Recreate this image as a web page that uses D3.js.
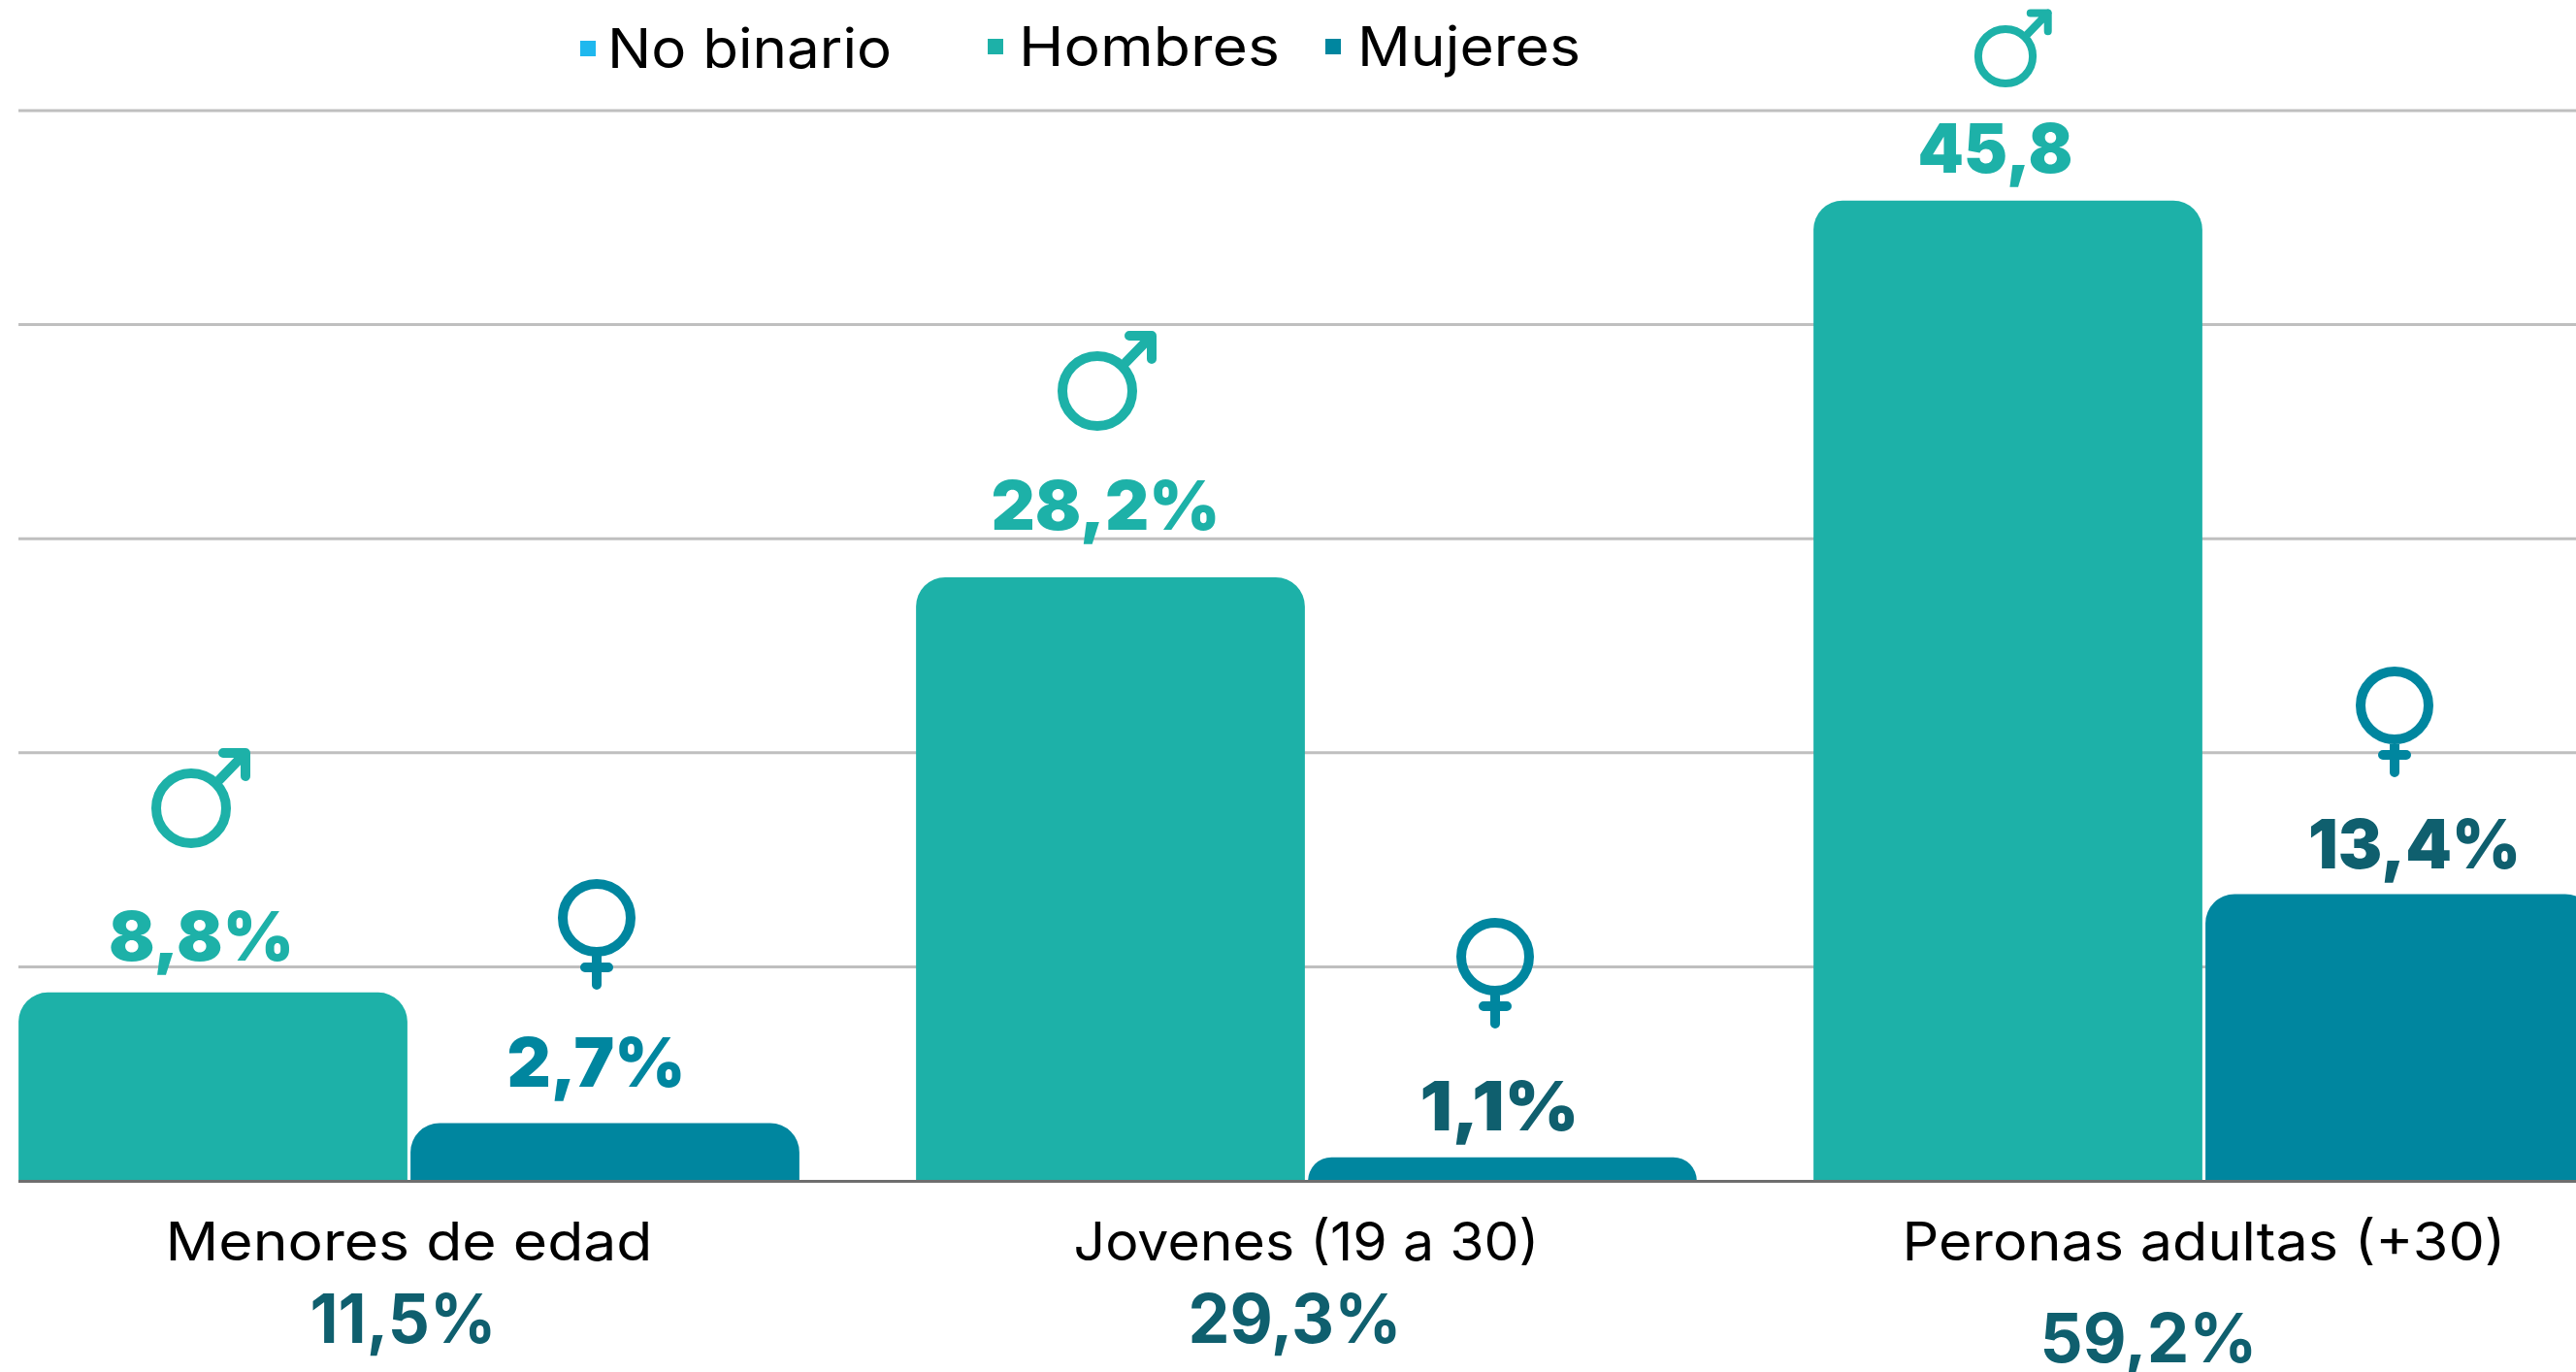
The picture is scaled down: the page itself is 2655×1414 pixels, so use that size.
<!DOCTYPE html>
<html><head><meta charset="utf-8">
<script src="https://cdn.jsdelivr.net/npm/d3@7/dist/d3.min.js"></script>
<style>html,body{margin:0;padding:0;background:#fff;overflow:hidden}svg{display:block}text{font-family:Inter,"Open Sans",sans-serif}</style>
</head><body><svg id="c" width="2655" height="1414"></svg>
<script>
// ---- data
const categories = ["Menores de edad", "Jovenes (19 a 30)", "Peronas adultas (+30)"];
const hombres = [8.8, 28.2, 45.8];
const mujeres = [2.7, 1.1, 13.4];
const hombresLabels = ["8,8%", "28,2%", "45,8"];
const mujeresLabels = ["2,7%", "1,1%", "13,4%"];
const totalLabels = ["11,5%", "29,3%", "59,2%"];
const legendItems = ["No binario", "Hombres", "Mujeres"];
const gridTicks = [0, 10, 20, 30, 40, 50];

// ---- styles and layout
const colors = {"No binario": "#1fb8ee", "Hombres": "#1db1a8", "Mujeres": "#00869f"};
const dark = "#0f5f6e";
const mujeresLabelColors = [colors.Mujeres, dark, dark];
const W = 2655, H = 1414;
const x = d3.scaleBand().domain(categories).range([-41, 2734]).paddingInner(0.13).paddingOuter(0.065);
const sub = d3.scaleBand().domain(["Hombres", "Mujeres"]).range([0, x.bandwidth()]).paddingInner(0.008);
const y = d3.scaleLinear().domain([0, 50]).range([1217, 114]);
const radius = 30;
const svg = d3.select("#c");

function topRound(x0, w, yTop, yBase, r) {
  const p = d3.path(), rr = Math.min(r, yBase - yTop);
  p.moveTo(x0, yBase);
  p.lineTo(x0, yTop + rr);
  p.arcTo(x0, yTop, x0 + rr, yTop, rr);
  p.lineTo(x0 + w - rr, yTop);
  p.arcTo(x0 + w, yTop, x0 + w, yTop + rr, rr);
  p.lineTo(x0 + w, yBase);
  p.closePath();
  return p.toString();
}
function maleSymbol(r) {
  const k = r / 41, p = d3.path();
  const R = r - 5 * k;
  p.moveTo(R, 0); p.arc(0, 0, R, 0, 2 * Math.PI);
  p.moveTo(R * 0.707, -R * 0.707); p.lineTo(56 * k, -57 * k);
  p.moveTo(33 * k, -57 * k); p.lineTo(56 * k, -57 * k); p.lineTo(56 * k, -33 * k);
  return p.toString();
}
function femaleSymbol(r) {
  const p = d3.path(), R = r - 5;
  p.moveTo(R, 0); p.arc(0, 0, R, 0, 2 * Math.PI);
  p.moveTo(0, R); p.lineTo(0, 69);
  p.moveTo(-12, 51); p.lineTo(12, 51);
  return p.toString();
}
function fit(sel, len) {
  sel.attr("textLength", len).attr("lengthAdjust", "spacingAndGlyphs");
}

// ---- gridlines
svg.append("g").selectAll("line").data(gridTicks.slice(1)).join("line")
  .attr("x1", 19).attr("x2", W).attr("y1", d => y(d)).attr("y2", d => y(d))
  .attr("stroke", "#bfbfbf").attr("stroke-width", 3);

// ---- bars
const seriesDefs = [
  {name: "Hombres", values: hombres},
  {name: "Mujeres", values: mujeres}
];
seriesDefs.forEach(s => {
  svg.append("g").selectAll("path").data(s.values).join("path")
    .attr("fill", colors[s.name])
    .attr("d", (v, i) => topRound(x(categories[i]) + sub(s.name), sub.bandwidth(), y(v), y(0), radius));
});
svg.append("line").attr("x1", 19).attr("x2", W).attr("y1", y(0) + 0.5).attr("y2", y(0) + 0.5)
  .attr("stroke", "#6e6e6e").attr("stroke-width", 3);

// ---- value labels (offsets from the bar's top centre)
const barCx = (name, i) => x(categories[i]) + sub(name) + sub.bandwidth() / 2;
const hLabelDx = [-12, -5, -13], hLabelDy = [33, 49, 29], hLabelW = [191, 236, 160];
const mLabelDx = [-9, -3, 15], mLabelDy = [37, 28, 26], mLabelW = [184, 164, 219];
svg.append("g").selectAll("text").data(hombresLabels).join("text")
  .attr("x", (d, i) => barCx("Hombres", i) + hLabelDx[i])
  .attr("y", (d, i) => y(hombres[i]) - hLabelDy[i])
  .attr("text-anchor", "middle").attr("font-size", 70).attr("font-weight", 900)
  .attr("fill", colors.Hombres).text(d => d)
  .each(function (d, i) { fit(d3.select(this), hLabelW[i]); });
svg.append("g").selectAll("text").data(mujeresLabels).join("text")
  .attr("x", (d, i) => barCx("Mujeres", i) + mLabelDx[i])
  .attr("y", (d, i) => y(mujeres[i]) - mLabelDy[i])
  .attr("text-anchor", "middle").attr("font-size", 70).attr("font-weight", 900)
  .attr("fill", (d, i) => mujeresLabelColors[i]).text(d => d)
  .each(function (d, i) { fit(d3.select(this), mLabelW[i]); });

// ---- gender symbols
const maleAt = [[197, 833, 41], [1131, 403, 41], [2067, 58, 32]];
const femaleAt = [[615, 946, 40], [1541, 986, 40], [2468, 727, 40]];
svg.append("g").selectAll("path").data(maleAt).join("path")
  .attr("transform", d => `translate(${d[0]},${d[1]})`)
  .attr("d", d => maleSymbol(d[2])).attr("fill", "none")
  .attr("stroke", colors.Hombres).attr("stroke-width", d => d[2] === 41 ? 10 : 8)
  .attr("stroke-linecap", "round").attr("stroke-linejoin", "round");
svg.append("g").selectAll("path").data(femaleAt).join("path")
  .attr("transform", d => `translate(${d[0]},${d[1]})`)
  .attr("d", d => femaleSymbol(d[2])).attr("fill", "none")
  .attr("stroke", colors.Mujeres).attr("stroke-width", 10)
  .attr("stroke-linecap", "round");

// ---- category axis
const axisG = svg.append("g").attr("transform", `translate(0,${y(0)})`)
  .call(d3.axisBottom(x).tickSize(0));
axisG.select(".domain").remove();
const catW = [502, 480, 622];
axisG.selectAll("text")
  .attr("y", 82).attr("dy", 0)
  .attr("font-size", 55).attr("font-weight", 400)
  .style("font-family", 'Inter,"Open Sans",sans-serif')
  .attr("fill", "#000")
  .each(function (d, i) { fit(d3.select(this), catW[i]); });

// ---- totals
const totalDx = [-6, -12, -57], totalY = [1384, 1384, 1404], totalW = [192, 220, 224];
svg.append("g").selectAll("text").data(totalLabels).join("text")
  .attr("x", (d, i) => x(categories[i]) + x.bandwidth() / 2 + totalDx[i])
  .attr("y", (d, i) => totalY[i])
  .attr("text-anchor", "middle").attr("font-size", 70).attr("font-weight", 700)
  .attr("fill", dark).text(d => d)
  .each(function (d, i) { fit(d3.select(this), totalW[i]); });

// ---- legend
const legX = [598, 1018, 1366], legTextX = [626, 1050, 1399], legBase = [70, 68, 68], legW = [293, 269, 230];
const leg = svg.append("g").selectAll("g").data(legendItems).join("g");
leg.append("rect")
  .attr("x", (d, i) => legX[i]).attr("y", (d, i) => legBase[i] - 28)
  .attr("width", 16).attr("height", 16).attr("fill", d => colors[d]);
leg.append("text")
  .attr("x", (d, i) => legTextX[i]).attr("y", (d, i) => legBase[i])
  .attr("font-size", 56).attr("font-weight", 400).attr("fill", "#000").text(d => d)
  .each(function (d, i) { fit(d3.select(this), legW[i]); });
</script></body></html>
